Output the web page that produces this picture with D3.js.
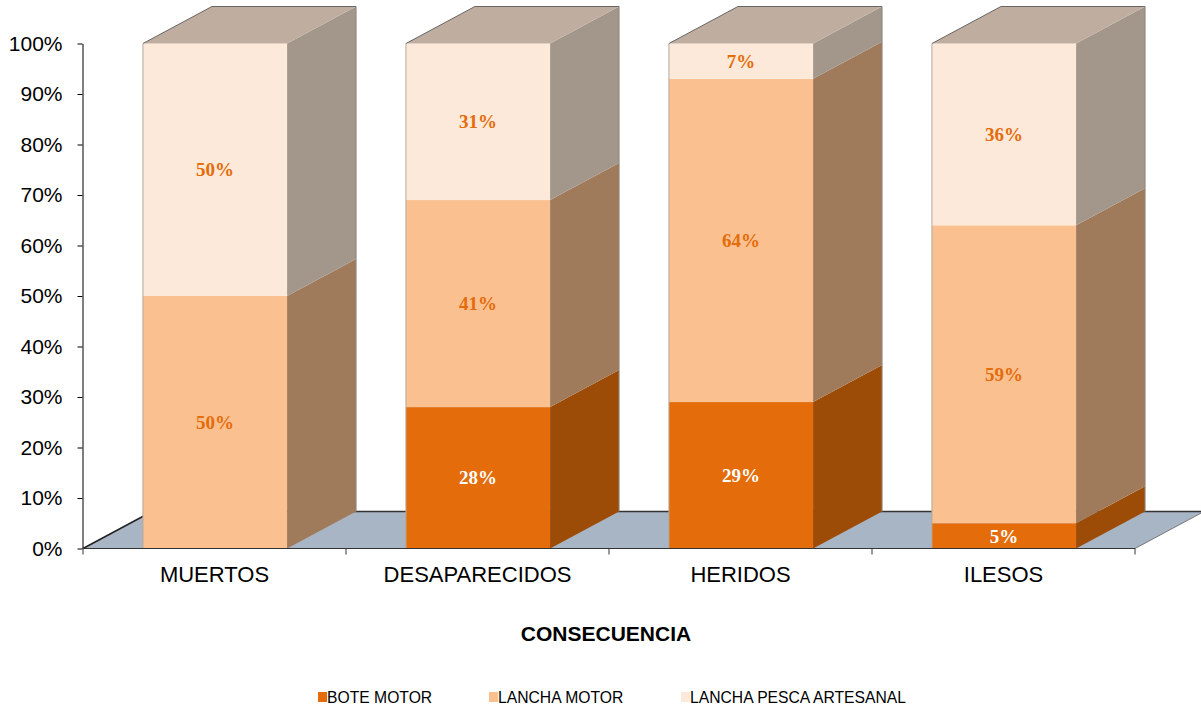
<!DOCTYPE html>
<html>
<head>
<meta charset="utf-8">
<script src="https://cdn.jsdelivr.net/npm/d3@7"></script>
<style>
  body { margin: 0; background: #fff; }
  text { font-family: "Liberation Sans", Arial, sans-serif; }
</style>
</head>
<body>
<div id="chart-area"></div>
<script>
// --- Data ---
var categories = ["MUERTOS", "DESAPARECIDOS", "HERIDOS", "ILESOS"];
var seriesNames = ["BOTE MOTOR", "LANCHA MOTOR", "LANCHA PESCA ARTESANAL"];
var boteMotor = [0, 28, 29, 5];
var lanchaMotor = [50, 41, 64, 59];
var lanchaPesca = [50, 31, 7, 36];
var yTicks = [0, 10, 20, 30, 40, 50, 60, 70, 80, 90, 100];

var frontColors = ["#e46c0a", "#fac090", "#fde9d9"];
var sideColors = ["#9d4c07", "#a07b5b", "#a3968b"];
var topColor = "#bfae9f";
var labelColors = ["#ffffff", "#e46c0a", "#e46c0a"];

// --- Canvas ---
var canvasWidth = 1201, canvasHeight = 710;
var svg = d3.select("#chart-area").append("svg")
  .attr("width", canvasWidth)
  .attr("height", canvasHeight);

// depth offsets for the 3d look
var depthX = 69, depthY = 37;

var x = d3.scaleBand().domain(categories).range([83, 1135]);
var y = d3.scaleLinear().domain([0, 100]).range([548.5, 43.5]);
var barW = x.bandwidth() * 0.548;

var table = categories.map(function(c, i) {
  return { cat: c, "BOTE MOTOR": boteMotor[i], "LANCHA MOTOR": lanchaMotor[i], "LANCHA PESCA ARTESANAL": lanchaPesca[i] };
});
var stacked = d3.stack().keys(seriesNames)(table);

// --- Floor ---
var y0 = y(0);
svg.append("path")
  .attr("d", "M" + x.range()[0] + "," + y0 + "L" + x.range()[1] + "," + y0 +
    "L" + (x.range()[1] + depthX) + "," + (y0 - depthY) + "L" + (x.range()[0] + depthX) + "," + (y0 - depthY) + "Z")
  .attr("fill", "#a8b5c4");
svg.append("line")
  .attr("x1", x.range()[0] + depthX).attr("y1", y0 - depthY)
  .attr("x2", x.range()[1] + depthX).attr("y2", y0 - depthY)
  .attr("stroke", "#333").attr("stroke-width", 1.5);
svg.append("line")
  .attr("x1", x.range()[0]).attr("y1", y0)
  .attr("x2", x.range()[0] + depthX).attr("y2", y0 - depthY)
  .attr("stroke", "#222").attr("stroke-width", 1.5);
svg.append("line")
  .attr("x1", x.range()[1]).attr("y1", y0)
  .attr("x2", x.range()[1] + depthX).attr("y2", y0 - depthY)
  .attr("stroke", "#777").attr("stroke-width", 1);

// --- Bars ---
var bars = svg.append("g");
categories.forEach(function(c, i) {
  var bx = x(c) + (x.bandwidth() - barW) / 2 + 0.5;
  var g = bars.append("g");
  stacked.forEach(function(s, k) {
    var d = s[i];
    if (d[1] - d[0] <= 0) return;
    var yt = y(d[1]), yb = y(d[0]);
    // side face
    g.append("path")
      .attr("d", "M" + (bx + barW) + "," + yb + "L" + (bx + barW) + "," + yt +
        "L" + (bx + barW + depthX) + "," + (yt - depthY) + "L" + (bx + barW + depthX) + "," + (yb - depthY) + "Z")
      .attr("fill", sideColors[k]);
    // front face
    g.append("rect")
      .attr("x", bx).attr("y", yt)
      .attr("width", barW).attr("height", yb - yt)
      .attr("fill", frontColors[k]);
  });
  // top face
  var yTop = y(100);
  g.append("path")
    .attr("d", "M" + bx + "," + yTop + "L" + (bx + barW) + "," + yTop +
      "L" + (bx + barW + depthX) + "," + (yTop - depthY) + "L" + (bx + depthX) + "," + (yTop - depthY) + "Z")
    .attr("fill", topColor);
  g.append("path")
    .attr("d", "M" + bx + "," + yTop + "L" + (bx + depthX) + "," + (yTop - depthY) + "L" + (bx + barW + depthX) + "," + (yTop - depthY))
    .attr("fill", "none").attr("stroke", "#666").attr("stroke-width", 1);
  g.append("line")
    .attr("x1", bx).attr("y1", yTop).attr("x2", bx).attr("y2", y(0))
    .attr("stroke", "#b5a89c").attr("stroke-width", 1);
  g.append("line")
    .attr("x1", bx + barW + depthX).attr("y1", yTop - depthY).attr("x2", bx + barW + depthX).attr("y2", y(0) - depthY)
    .attr("stroke", "#8f857c").attr("stroke-width", 1);

  // labels
  stacked.forEach(function(s, k) {
    var d = s[i];
    var v = d[1] - d[0];
    if (v <= 0) return;
    g.append("text")
      .attr("x", bx + barW / 2)
      .attr("y", (y(d[0]) + y(d[1])) / 2)
      .attr("dy", "0.35em")
      .attr("text-anchor", "middle")
      .style("font-family", "'Liberation Serif', 'Times New Roman', serif")
      .style("font-weight", "bold")
      .style("font-size", "19px")
      .attr("fill", labelColors[k])
      .text(v + "%");
  });
});

// --- Axes ---
var yAxis = d3.axisLeft(y).tickValues(yTicks).tickFormat(function(d) { return d + "%"; })
  .tickSize(5).tickSizeOuter(0).tickPadding(15);
var yAxisGroup = svg.append("g")
  .attr("transform", "translate(82.5,0)")
  .call(yAxis);
yAxisGroup.selectAll("text").style("font-size", "21px").attr("fill", "#000");
yAxisGroup.selectAll("line, path").attr("stroke", "#000");

svg.append("line")
  .attr("x1", x.range()[0]).attr("y1", y0).attr("x2", x.range()[1]).attr("y2", y0)
  .attr("stroke", "#333").attr("stroke-width", 1.2);
var boundaries = categories.map(function(c) { return x(c); }).concat([x.range()[1]]);
svg.selectAll(".xtick").data(boundaries).enter().append("line")
  .attr("class", "xtick")
  .attr("x1", function(d) { return d; }).attr("x2", function(d) { return d; })
  .attr("y1", y0).attr("y2", y0 + 6)
  .attr("stroke", "#333");

var xAxis = d3.axisBottom(x).tickSize(0).tickPadding(18);
var xAxisGroup = svg.append("g")
  .attr("transform", "translate(0," + y0 + ")")
  .call(xAxis);
xAxisGroup.select(".domain").remove();
xAxisGroup.selectAll("text").style("font-size", "22px").attr("fill", "#000");

svg.append("text")
  .attr("x", 606).attr("y", 641)
  .attr("text-anchor", "middle")
  .style("font-size", "21px").style("font-weight", "bold")
  .text("CONSECUENCIA");

// --- Legend ---
var legendX = [318, 489, 681];
seriesNames.forEach(function(name, k) {
  var row = svg.append("g").attr("transform", "translate(" + legendX[k] + ",692)");
  row.append("rect").attr("width", 9).attr("height", 10).attr("fill", frontColors[k]);
  row.append("text").attr("x", 9).attr("y", 10.5)
    .style("font-size", "15.7px")
    .attr("fill", "#000")
    .text(name);
});
</script>
</body>
</html>
